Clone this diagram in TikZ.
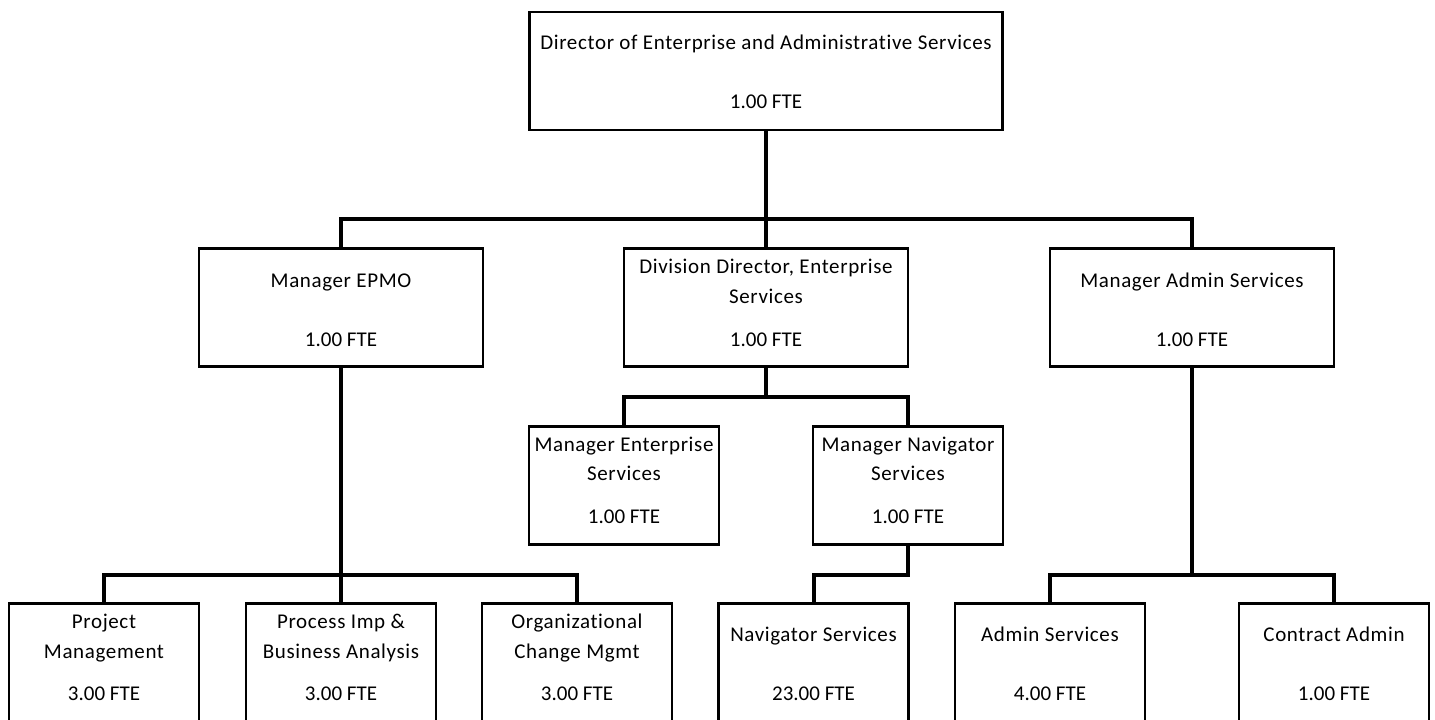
\documentclass[tikz,border=0pt]{standalone}
\usepackage{fontspec}
\setmainfont{Carlito}
\newfontfamily\titlefont[LetterSpace=3,Ligatures=NoCommon]{Carlito}
\begin{document}
\begin{tikzpicture}[x=0.5pt,y=-0.5pt,
    link/.style={line width=2pt},
    topbox/.style={minimum width=236.5pt},
    midbox/.style={minimum width=142pt},
    smallbox/.style={minimum width=95pt},
    fte/.style={font=\fontsize{10.5}{12}\selectfont}]

      \useasboundingbox (0,0) rectangle (1435,719);
      \clip (0,0) rectangle (1435,719);

      \begin{scope}[every node/.style={draw, rectangle, line width=1.35pt, minimum height=59pt, inner sep=0pt}]
        \node[topbox]   (dir)    at (766,71)    {};
        \node[midbox]   (epmo)   at (341,307.5) {};
        \node[midbox]   (divdir) at (766,307.5) {};
        \node[midbox]   (admin)  at (1192,307.5) {};
        \node[smallbox] (mes)    at (624,485.5) {};
        \node[smallbox] (mns)    at (908,485.5) {};
        \node[smallbox] (pm)     at (104,662.5) {};
        \node[smallbox] (pi)     at (341,662.5) {};
        \node[smallbox] (oc)     at (577,662.5) {};
        \node[smallbox] (ns)     at (813.5,662.5) {};
        \node[smallbox] (as)     at (1050,662.5) {};
        \node[smallbox] (ca)     at (1334,662.5) {};
      \end{scope}

      \coordinate (bus1) at (766,219);
      \coordinate (bus2) at (766,397);
      \coordinate (bus3) at (341,575);
      \coordinate (bus4) at (908,575);
      \coordinate (bus5) at (1192,575);

      \draw[link] (dir.south) -- (divdir.north);
      \draw[link] (epmo.north) |- (bus1) -| (admin.north);
      \draw[link] (divdir.south) -- (bus2);
      \draw[link] (mes.north) |- (bus2) -| (mns.north);
      \draw[link] (epmo.south) -- (pi.north);
      \draw[link] (pm.north) |- (bus3) -| (oc.north);
      \draw[link] (mns.south) -- (bus4) -| (ns.north);
      \draw[link] (admin.south) -- (bus5);
      \draw[link] (as.north) |- (bus5) -| (ca.north);

      \begin{scope}[every node/.style={anchor=base, inner sep=0pt, font=\titlefont\fontsize{10.5}{12}\selectfont}]
        \node (dir-t)    at (766,49)    {Director of Enterprise and Administrative Services};
        \node[fte] (dir-f)    at (766,108)   {1.00 FTE};
        \node (epmo-t)   at (341,287)   {Manager EPMO};
        \node[fte] (epmo-f)   at (341,346)   {1.00 FTE};
        \node (divdir-t) at (766,273.5) {Division Director, Enterprise};
        \node (divdir-s) at (766,303)   {Services};
        \node[fte] (divdir-f) at (766,346)   {1.00 FTE};
        \node (admin-t)  at (1192,287)  {Manager Admin Services};
        \node[fte] (admin-f)  at (1192,346)  {1.00 FTE};
        \node (mes-t)    at (624,451)   {Manager Enterprise};
        \node (mes-s)    at (624,480.5) {Services};
        \node[fte] (mes-f)    at (624,523)   {1.00 FTE};
        \node (mns-t)    at (908,451)   {Manager Navigator};
        \node (mns-s)    at (908,480.5) {Services};
        \node[fte] (mns-f)    at (908,523)   {1.00 FTE};
        \node (pm-t)     at (104,628.5) {Project};
        \node (pm-s)     at (104,658)   {Management};
        \node[fte] (pm-f)     at (104,700.5) {3.00 FTE};
        \node (pi-t)     at (341,628.5) {Process Imp \&};
        \node (pi-s)     at (341,658)   {Business Analysis};
        \node[fte] (pi-f)     at (341,700.5) {3.00 FTE};
        \node (oc-t)     at (577,628.5) {Organizational};
        \node (oc-s)     at (577,658)   {Change Mgmt};
        \node[fte] (oc-f)     at (577,700.5) {3.00 FTE};
        \node (ns-t)     at (813.5,641.5) {Navigator Services};
        \node[fte] (ns-f)     at (813.5,700.5) {23.00 FTE};
        \node (as-t)     at (1050,641.5) {Admin Services};
        \node[fte] (as-f)     at (1050,700.5) {4.00 FTE};
        \node (ca-t)     at (1334,641.5) {Contract Admin};
        \node[fte] (ca-f)     at (1334,700.5) {1.00 FTE};
      \end{scope}

    \end{tikzpicture}
\end{document}
